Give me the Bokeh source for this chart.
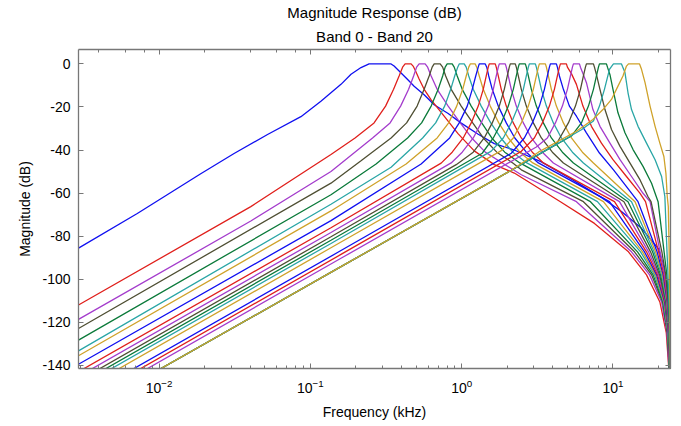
from bokeh.plotting import figure
from bokeh.models import LogAxis, LinearAxis, FixedTicker, Title, Range1d
from bokeh.embed import file_html
from bokeh.resources import INLINE

# ---- data (frequency in kHz, magnitude in dB) ----
band0_khz = [0.00293, 0.00717, 0.01883, 0.03128, 0.05206, 0.08652, 0.1173, 0.1592, 0.1855, 0.2160, 0.2441, 0.3413, 0.3573, 0.3975, 0.4423, 0.4846, 0.5645, 0.6576, 0.8139, 0.9924, 1.286, 1.642, 2.227, 3.362, 5.312, 8.389, 11.38, 15.44, 20.02, 21.61, 22.62, 23.31, 23.67, 23.95, 24.0]
band0_db = [-85.6, -69.5, -51, -41.6, -32.8, -24.5, -17.3, -9.5, -4.8, -1.7, 0, 0, -1, -4.2, -7.5, -10.4, -14.3, -19, -23, -27.5, -32.7, -37, -40, -45.5, -53.5, -62, -68.6, -76.4, -86, -94, -104, -118, -130, -141.5, -300]

band1_khz = [0.00293, 0.04036, 0.1367, 0.1972, 0.2634, 0.3139, 0.3546, 0.3856, 0.4067, 0.4225, 0.4629, 0.4773, 0.4921, 0.5230, 0.5645, 0.6281, 0.7314, 0.9482, 1.210, 1.642, 2.227, 4.492, 7.541, 12.66, 16.66, 20.41, 22.51, 23.38, 24.0]
band1_db = [-112, -66.3, -42.1, -34.4, -27.4, -19.6, -11.8, -5.6, -1.5, 0, 0, -1, -2.8, -7, -11.8, -16.7, -22.5, -32.5, -40.4, -46.8, -50.7, -64, -74.1, -87.3, -98, -110.6, -125, -141.5, -300]

band2_khz = [0.00293, 0.04036, 0.1367, 0.2574, 0.3362, 0.3946, 0.4457, 0.4809, 0.5034, 0.5230, 0.5732, 0.5954, 0.6281, 0.6883, 0.8139, 0.9776, 1.165, 1.431, 1.854, 2.478, 5.733, 13.26, 17.45, 20.96, 22.72, 23.45, 24.0]
band2_db = [-118.7, -73, -50, -34.4, -27.4, -19.6, -11.8, -5.6, -1.5, 0, 0, -1.5, -5.6, -11.8, -19.6, -27.4, -34.4, -41, -46, -51.5, -64, -87.3, -98, -110.6, -125, -141.5, -300]

band3_khz = [0.00293, 0.1367, 0.2160, 0.3413, 0.4323, 0.5073, 0.5645, 0.6092, 0.6378, 0.6576, 0.7206, 0.7484, 0.7835, 0.8521, 0.9924, 1.183, 1.388, 1.705, 2.176, 2.478, 6.377, 13.88, 17.99, 21.28, 22.89, 23.52, 24.0]
band3_db = [-122.9, -55.4, -45, -34.4, -27.4, -19.6, -11.8, -5.6, -1.5, 0, 0, -1.5, -5.6, -11.8, -19.6, -27.4, -34.4, -41, -46, -49.2, -64, -87.3, -98, -110.6, -125, -141.5, -300]

band4_khz = [0.00293, 0.1367, 0.2716, 0.4390, 0.5433, 0.6281, 0.6989, 0.7484, 0.7775, 0.8015, 0.8652, 0.8921, 0.9338, 1.008, 1.156, 1.356, 1.580, 1.926, 2.422, 7.096, 14.53, 18.41, 21.44, 22.96, 23.59, 24.0]
band4_db = [-128.3, -60.8, -46.5, -34.4, -27.4, -19.6, -11.8, -5.6, -1.5, 0, 0, -1.5, -5.6, -11.8, -19.6, -27.4, -34.4, -41, -46, -64, -87.3, -98, -110.6, -125, -141.5, -300]

band5_khz = [0.00293, 0.1367, 0.3413, 0.5517, 0.6728, 0.7716, 0.8456, 0.8989, 0.9410, 0.9628, 1.039, 1.071, 1.113, 1.192, 1.346, 1.556, 1.813, 2.176, 2.695, 7.894, 15.21, 18.83, 21.61, 23.07, 23.67, 24.0]
band5_db = [-133.3, -65.2, -48, -34.4, -27.4, -19.6, -11.8, -5.6, -1.5, 0, 0, -1.5, -5.6, -11.8, -19.6, -27.4, -34.4, -41, -46, -64, -87.3, -98, -110.6, -125, -141.5, -300]

band6_khz = [0.00293, 0.1367, 0.4290, 0.6883, 0.8201, 0.9267, 1.015, 1.071, 1.113, 1.139, 1.229, 1.257, 1.306, 1.388, 1.544, 1.758, 2.032, 2.422, 2.953, 8.649, 15.68, 19.12, 21.77, 23.14, 23.70, 24.0]
band6_db = [-135.6, -68.3, -46.5, -34.4, -27.4, -19.6, -11.8, -5.6, -1.5, 0, 0, -1.5, -5.6, -11.8, -19.6, -27.4, -34.4, -41, -46, -64, -87.3, -98, -110.6, -125, -141.5, -300]

band7_khz = [0.00293, 0.1367, 0.5392, 0.8327, 0.9628, 1.088, 1.174, 1.238, 1.286, 1.306, 1.431, 1.464, 1.509, 1.592, 1.745, 1.971, 2.244, 2.674, 3.212, 9.479, 16.16, 19.42, 21.94, 23.21, 23.74, 24.0]
band7_db = [-139.5, -72.8, -46.5, -34.4, -27.4, -19.6, -11.8, -5.6, -1.5, 0, 0, -1.5, -5.6, -11.8, -19.6, -27.4, -34.4, -41, -46, -64, -87.3, -98, -110.6, -125, -141.5, -300]

band8_khz = [0.00293, 0.1367, 0.7314, 0.8652, 1.023, 1.156, 1.286, 1.388, 1.453, 1.498, 1.521, 1.667, 1.692, 1.745, 1.826, 1.971, 2.193, 2.478, 2.930, 3.466, 10.23, 16.66, 19.72, 22.11, 23.31, 23.77, 24.0]
band8_db = [-143, -76.1, -46.1, -41, -34.4, -27.4, -19.6, -11.8, -5.6, -1.5, 0, 0, -1.5, -5.6, -11.8, -19.6, -27.4, -34.4, -41, -46, -64, -87.3, -98, -110.6, -125, -141.5, -300]

band9_khz = [0.00293, 0.1367, 0.8521, 1.008, 1.192, 1.346, 1.498, 1.617, 1.692, 1.745, 1.772, 1.941, 1.971, 2.032, 2.127, 2.296, 2.555, 2.886, 3.414, 4.036, 11.04, 17.18, 20.02, 22.28, 23.38, 23.81, 24.0]
band9_db = [-145.2, -78.3, -46, -41, -34.4, -27.4, -19.6, -11.8, -5.6, -1.5, 0, 0, -1.5, -5.6, -11.8, -19.6, -27.4, -34.4, -41, -46, -64, -87.3, -98, -110.6, -125, -141.5, -300]

band10_khz = [0.00293, 0.1367, 0.9197, 1.192, 1.409, 1.592, 1.772, 1.912, 2.001, 2.063, 2.095, 2.261, 2.296, 2.367, 2.478, 2.674, 2.975, 3.362, 3.975, 4.701, 11.82, 17.71, 20.33, 22.38, 23.41, 23.85, 24.0]
band10_db = [-147.2, -80.3, -46.8, -41, -34.4, -27.4, -19.6, -11.8, -5.6, -1.5, 0, 0, -1.5, -5.6, -11.8, -19.6, -27.4, -34.4, -41, -46, -64, -87.3, -98, -110.6, -125, -141.5, -300]

band11_khz = [0.00293, 0.1367, 1.367, 1.617, 1.826, 2.032, 2.193, 2.296, 2.367, 2.403, 2.634, 2.674, 2.757, 2.886, 3.115, 3.466, 3.915, 4.630, 5.477, 12.57, 18.27, 20.64, 22.48, 23.48, 23.88, 24.0]
band11_db = [-148.8, -81.9, -41.5, -34.4, -27.4, -19.6, -11.8, -5.6, -1.5, 0, 0, -1.5, -5.6, -11.8, -19.6, -27.4, -34.4, -41, -46, -64, -87.3, -98, -110.6, -125, -141.5, -300]

band12_khz = [0.00293, 0.1367, 1.568, 1.883, 2.127, 2.367, 2.555, 2.674, 2.757, 2.800, 3.068, 3.115, 3.212, 3.362, 3.629, 4.036, 4.560, 5.394, 6.377, 13.26, 18.69, 20.96, 22.62, 23.56, 23.92, 24.0]
band12_db = [-150.3, -83.4, -40.5, -34.4, -27.4, -19.6, -11.8, -5.6, -1.5, 0, 0, -1.5, -5.6, -11.8, -19.6, -27.4, -34.4, -41, -46, -64, -87.3, -98, -110.6, -125, -141.5, -300]

band13_khz = [0.00293, 0.1367, 1.826, 2.193, 2.478, 2.757, 2.975, 3.115, 3.212, 3.261, 3.574, 3.629, 3.741, 3.915, 4.225, 4.701, 5.312, 6.280, 7.426, 13.99, 19.12, 21.22, 22.72, 23.59, 23.94, 24.0]
band13_db = [-152.3, -85.4, -40.3, -34.4, -27.4, -19.6, -11.8, -5.6, -1.5, 0, 0, -1.5, -5.6, -11.8, -19.6, -27.4, -34.4, -41, -46, -64, -87.3, -98, -110.6, -125, -141.5, -300]

band14_khz = [0.00293, 0.1592, 2.127, 2.594, 2.930, 3.261, 3.520, 3.684, 3.799, 3.857, 4.225, 4.290, 4.424, 4.701, 5.152, 5.733, 6.675, 8.139, 10.08, 12.28, 14.64, 19.57, 21.47, 22.82, 23.63, 23.95, 24.0]
band14_db = [-156.2, -86.7, -41.5, -34.4, -27.4, -19.6, -11.8, -5.6, -1.5, 0, 0, -1.5, -5.6, -11.8, -19.6, -24.3, -32, -41.4, -49.2, -57, -64, -87.3, -98, -110.6, -125, -141.5, -300]

band15_khz = [0.00293, 0.1592, 2.478, 3.021, 3.414, 3.799, 4.099, 4.290, 4.424, 4.492, 4.922, 4.997, 5.312, 5.733, 6.329, 7.203, 8.389, 10.00, 12.28, 15.10, 16.41, 20.02, 21.74, 22.96, 23.70, 23.97, 24.0]
band15_db = [-158, -88.5, -40.6, -34.4, -27.4, -19.6, -11.8, -5.6, -1.5, 0, 0, -1.5, -4.5, -9.5, -19.6, -29, -36.8, -44.5, -52.3, -60.1, -64, -87.3, -98, -110.6, -125, -141.5, -300]

band16_khz = [0.00293, 0.1592, 3.115, 3.684, 4.162, 4.630, 4.997, 5.232, 5.394, 5.477, 6.002, 6.094, 6.377, 6.675, 7.370, 8.201, 9.551, 11.13, 13.26, 15.80, 17.58, 20.48, 22.00, 23.07, 23.74, 23.98, 24.0]
band16_db = [-159.8, -90.3, -38.6, -34.4, -27.4, -19.6, -11.8, -5.6, -1.5, 0, 0, -1.5, -5, -8.7, -21.2, -29, -36.8, -44.5, -52.3, -60.1, -64, -87.3, -98, -110.6, -125, -141.5, -300]

band17_khz = [0.00293, 0.1592, 2.127, 4.225, 5.074, 5.647, 6.094, 6.377, 6.575, 6.675, 7.426, 7.541, 7.774, 8.201, 8.850, 9.775, 11.13, 12.96, 15.10, 17.05, 17.85, 21.05, 22.31, 23.17, 23.77, 23.985, 24.0]
band17_db = [-163.2, -94.2, -49.4, -37.2, -27.4, -19.6, -11.8, -5.6, -1.5, 0, 0, -1.5, -5, -11.8, -21.2, -30.5, -38.3, -46.1, -53.9, -61.7, -64, -87.3, -98, -110.6, -125, -141.5, -300]

band18_khz = [0.00293, 0.1592, 2.127, 5.312, 6.185, 6.883, 7.426, 7.774, 8.016, 8.139, 9.054, 9.194, 9.551, 10.00, 10.79, 12.00, 13.57, 15.80, 17.99, 19.87, 21.77, 22.69, 23.31, 23.81, 23.99, 24.0]
band18_db = [-163.2, -94.2, -49.4, -33.5, -27.4, -19.6, -11.8, -5.6, -1.5, 0, 0, -1.5, -5, -11.8, -22.7, -32, -39.8, -47.6, -55.4, -64, -87.3, -98, -110.6, -125, -141.5, -300]

band19_khz = [0.00293, 0.1592, 2.127, 6.185, 7.426, 8.139, 8.782, 9.479, 9.926, 10.08, 11.38, 11.56, 12.00, 12.57, 13.26, 14.64, 16.66, 18.98, 20.96, 22.03, 22.75, 23.10, 23.45, 23.77, 23.99, 24.0]
band19_db = [-163.2, -94.2, -49.4, -30.6, -26.5, -19.6, -11.8, -2.5, -0.6, 0, 0, -1.2, -4, -13.4, -21.2, -29, -36.8, -44.5, -52.3, -61.7, -87.3, -98, -110.6, -125, -141.5, -300]

band20_khz = [0.00293, 0.1592, 1.156, 2.127, 3.212, 5.733, 7.370, 8.584, 9.775, 10.79, 11.64, 12.28, 12.66, 14.98, 15.44, 16.29, 17.58, 18.98, 20.41, 21.70, 22.38, 22.85, 23.21, 23.52, 23.77, 23.99, 24.0]
band20_db = [-163.2, -94.2, -59.9, -49.4, -41, -31.3, -25.8, -21.2, -16.5, -10.3, -5.6, -1, 0, 0, -2.5, -8.7, -19.6, -29, -36.8, -43, -50.8, -61.7, -66.3, -87.3, -110.6, -141.5, -300]

bands_khz = [band0_khz, band1_khz, band2_khz, band3_khz, band4_khz, band5_khz, band6_khz,
             band7_khz, band8_khz, band9_khz, band10_khz, band11_khz, band12_khz, band13_khz,
             band14_khz, band15_khz, band16_khz, band17_khz, band18_khz, band19_khz, band20_khz]
bands_db = [band0_db, band1_db, band2_db, band3_db, band4_db, band5_db, band6_db,
            band7_db, band8_db, band9_db, band10_db, band11_db, band12_db, band13_db,
            band14_db, band15_db, band16_db, band17_db, band18_db, band19_db, band20_db]

line_colors = ["#1010f0", "#e0201c", "#a43ccc", "#4f4f33", "#0b7a3a", "#2aa6a6", "#cfa22a"]

y_ticks = [-140, -120, -100, -80, -60, -40, -20, 0]
y_tick_labels = ["-140", "-120", "-100", "-80", "-60", "-40", "-20", "0"]

title_line1 = "Magnitude Response (dB)"
title_line2 = "Band 0 - Band 20"
x_label = "Frequency (kHz)"
y_label = "Magnitude (dB)"

FONT = "Liberation Sans"
AXC = "#777777"

p = figure(width=674, height=422, x_axis_type="log",
           x_range=Range1d(0.00293, 24.0), y_range=Range1d(-141.5, 6.7),
           output_backend="svg", toolbar_location=None, title=None,
           min_border_left=78, min_border_right=4, min_border_top=49, min_border_bottom=52)
p.background_fill_color = "white"
p.border_fill_color = "white"
p.outline_line_color = None
p.xgrid.visible = False
p.ygrid.visible = False

for i, (fx, dbv) in enumerate(zip(bands_khz, bands_db)):
    p.line(fx, dbv, line_color=line_colors[i % 7], line_width=1.3)


def style_axis(ax, minor=True, labels=True):
    ax.axis_line_color = AXC
    ax.axis_line_width = 1.3
    ax.major_tick_line_color = AXC
    ax.major_tick_in = 5
    ax.major_tick_out = 0
    if minor:
        ax.minor_tick_line_color = AXC
        ax.minor_tick_in = 3
        ax.minor_tick_out = 0
    else:
        ax.minor_tick_line_color = None
    ax.major_label_text_font = FONT
    ax.major_label_text_color = "black"
    if labels:
        ax.major_label_text_font_size = "14px"
        ax.major_label_standoff = 8
    else:
        ax.major_label_text_font_size = "2px"
        ax.major_label_text_alpha = 0
        ax.major_label_standoff = 0
    ax.axis_label_text_font = FONT
    ax.axis_label_text_font_size = "14px"
    ax.axis_label_text_font_style = "normal"
    ax.axis_label_text_color = "black"


xa = p.xaxis[0]
style_axis(xa, minor=True)
xa.major_label_standoff = 10
xa.axis_label = x_label
xa.axis_label_standoff = 8

ya = p.yaxis[0]
ya.ticker = FixedTicker(ticks=y_ticks, minor_ticks=[])
style_axis(ya, minor=False)
ya.major_label_overrides = {t: s for t, s in zip(y_ticks, y_tick_labels)}
ya.axis_label = y_label
ya.axis_label_standoff = 6

top_ax = LogAxis()
style_axis(top_ax, minor=True, labels=False)
p.add_layout(top_ax, "above")

right_ax = LinearAxis(ticker=FixedTicker(ticks=y_ticks, minor_ticks=[]))
style_axis(right_ax, minor=False, labels=False)
p.add_layout(right_ax, "right")

t2 = Title(text=title_line2, align="center", text_font=FONT, text_font_size="15px",
           text_font_style="normal", text_color="black", standoff=10, text_line_height=1.0)
p.add_layout(t2, "above")
t1 = Title(text=title_line1, align="center", text_font=FONT, text_font_size="15px",
           text_font_style="normal", text_color="black", standoff=0, text_line_height=1.0)
p.add_layout(t1, "above")

open("out.html", "w").write(file_html(p, INLINE))
